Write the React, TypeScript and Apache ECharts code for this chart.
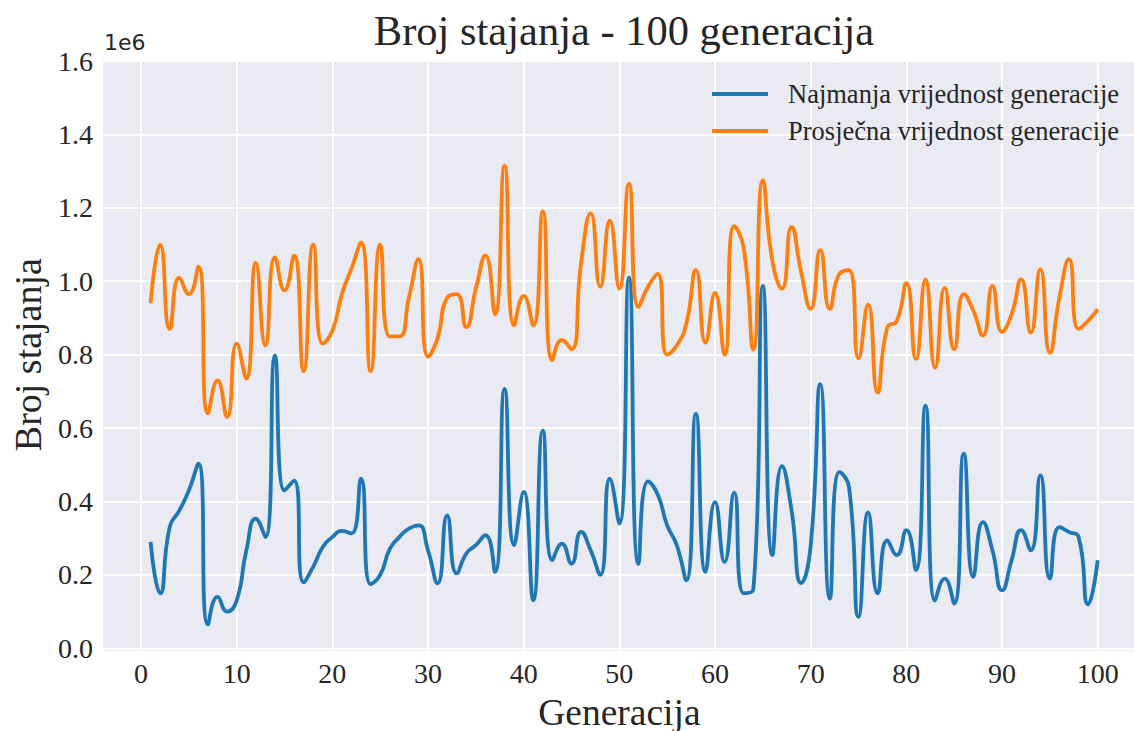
import React, { useEffect, useRef } from "react";
import * as echarts from "echarts";

// values in units of 1e6
const minValues = [
  0.29, 0.15, 0.33, 0.375, 0.43, 0.503, 0.065, 0.14, 0.10, 0.13,
  0.265, 0.353, 0.303, 0.797, 0.43, 0.457, 0.18, 0.222, 0.276, 0.303,
  0.32, 0.313, 0.462, 0.175, 0.20, 0.27, 0.303, 0.326, 0.335, 0.267,
  0.177, 0.362, 0.204, 0.258, 0.281, 0.308, 0.208, 0.707, 0.281, 0.426,
  0.131, 0.593, 0.24, 0.285, 0.231, 0.317, 0.267, 0.2, 0.462, 0.34,
  1.01, 0.23, 0.455, 0.42, 0.335, 0.281, 0.185, 0.639, 0.208, 0.398,
  0.235, 0.424, 0.15, 0.16, 0.987, 0.254, 0.496, 0.376, 0.178, 0.28,
  0.72, 0.135, 0.48, 0.44, 0.086, 0.37, 0.15, 0.294, 0.254, 0.322,
  0.213, 0.661, 0.13, 0.19, 0.122, 0.53, 0.195, 0.344, 0.267, 0.158,
  0.24, 0.322, 0.267, 0.471, 0.19, 0.33, 0.317, 0.303, 0.12, 0.24,
];

const avgValues = [
  0.94, 1.10, 0.87, 1.01, 0.965, 1.04, 0.64, 0.73, 0.63, 0.83,
  0.735, 1.05, 0.825, 1.065, 0.975, 1.07, 0.755, 1.10, 0.83, 0.865,
  0.965, 1.035, 1.105, 0.755, 1.10, 0.85, 0.85, 0.955, 1.06, 0.795,
  0.845, 0.955, 0.965, 0.875, 0.98, 1.07, 0.91, 1.315, 0.88, 0.96,
  0.88, 1.19, 0.785, 0.84, 0.815, 1.05, 1.185, 0.985, 1.165, 0.98,
  1.265, 0.93, 0.985, 1.02, 0.80, 0.825, 0.885, 1.03, 0.833, 0.968,
  0.80, 1.15, 1.09, 0.814, 1.275, 1.055, 0.98, 1.148, 1.025, 0.925,
  1.085, 0.925, 1.02, 1.03, 0.79, 0.936, 0.697, 0.874, 0.892, 0.995,
  0.788, 1.005, 0.765, 0.982, 0.815, 0.965, 0.92, 0.852, 0.987, 0.862,
  0.91, 1.005, 0.86, 1.033, 0.805, 0.956, 1.06, 0.87, 0.892, 0.924,
];

const generations = minValues.map((_, i) => i + 1);

const seriesNames = ["Najmanja vrijednost generacije", "Prosječna vrijednost generacije"];
const seriesColors = ["#1f77b4", "#ff7f0e"];

const SERIF = "'Liberation Serif', 'Times New Roman', serif";
const TEXT = "#262626";

export default function App() {
  const ref = useRef<HTMLDivElement>(null);

  useEffect(() => {
    if (!ref.current) return;
    const chart = echarts.init(ref.current, undefined, { renderer: "svg" });
    const option: any = {
      animation: false,
      backgroundColor: "#ffffff",
      title: {
        text: "Broj stajanja - 100 generacija",
        left: 619,
        textAlign: "center",
        top: 4,
        textStyle: { fontFamily: SERIF, fontSize: 42.5, fontWeight: "normal", color: TEXT },
      },
      graphic: [
        {
          type: "rect",
          z: -10,
          shape: { x: 103, y: 61, width: 1042, height: 590 },
          style: { fill: "#EAEAF2" },
          silent: true,
        },
        {
          type: "text",
          x: 104,
          y: 42,
          style: {
            text: "1e6",
            fontFamily: "'DejaVu Sans', sans-serif",
            fontSize: 22,
            fill: TEXT,
            textVerticalAlign: "middle",
          },
        },
      ],
      legend: {
        orient: "vertical",
        left: 707,
        top: 75,
        icon: "rect",
        itemWidth: 56,
        itemHeight: 3.8,
        itemGap: 9,
        data: seriesNames,
        textStyle: {
          fontFamily: SERIF,
          fontSize: 26.5,
          lineHeight: 28,
          color: TEXT,
          padding: [0, 0, 0, 15],
        },
      },
      grid: [
        { left: 103, top: 61, width: 1042, height: 587.3, containLabel: false, outerBoundsMode: "none" },
        { left: 141, top: 61, width: 956.7, height: 590, containLabel: false, outerBoundsMode: "none" },
      ],
      xAxis: [
        { type: "value", gridIndex: 0, min: 0, max: 1, show: false },
        {
          type: "value",
          gridIndex: 1,
          min: 0,
          max: 100,
          interval: 10,
          name: "Generacija",
          nameLocation: "middle",
          nameGap: 42,
          nameTextStyle: { fontFamily: SERIF, fontSize: 37.5, color: TEXT },
          axisLine: { show: false },
          axisTick: { show: false },
          axisLabel: { fontFamily: SERIF, fontSize: 28, color: TEXT, margin: 8 },
          splitLine: { show: true, lineStyle: { color: "#ffffff", width: 2 } },
        },
      ],
      yAxis: [
        {
          type: "value",
          gridIndex: 0,
          min: 0,
          max: 1.6,
          interval: 0.2,
          name: "Broj stajanja",
          nameLocation: "middle",
          nameGap: 55,
          nameRotate: 90,
          nameTextStyle: { fontFamily: SERIF, fontSize: 38, color: TEXT },
          axisLine: { show: false },
          axisTick: { show: false },
          axisLabel: {
            fontFamily: SERIF,
            fontSize: 28,
            color: TEXT,
            margin: 10,
            formatter: (v: number) => v.toFixed(1),
          },
          splitLine: { show: true, lineStyle: { color: "#ffffff", width: 2 } },
        },
        { type: "value", gridIndex: 1, min: -0.0073, max: 1.6, show: false },
      ],
      series: [
        {
          name: seriesNames[0],
          type: "line",
          xAxisIndex: 1,
          yAxisIndex: 1,
          data: generations.map((g, i) => [g, minValues[i]]),
          smooth: 0.55,
          symbol: "none",
          lineStyle: { color: seriesColors[0], width: 3.8 },
          itemStyle: { color: seriesColors[0] },
          z: 3,
        },
        {
          name: seriesNames[1],
          type: "line",
          xAxisIndex: 1,
          yAxisIndex: 1,
          data: generations.map((g, i) => [g, avgValues[i]]),
          smooth: 0.55,
          symbol: "none",
          lineStyle: { color: seriesColors[1], width: 3.8 },
          itemStyle: { color: seriesColors[1] },
          z: 3,
        },
      ],
    };
    chart.setOption(option);
    return () => chart.dispose();
  }, []);

  return (
    <div
      ref={ref}
      style={{ position: "fixed", left: 0, top: 0, width: 1134, height: 731 }}
    />
  );
}
